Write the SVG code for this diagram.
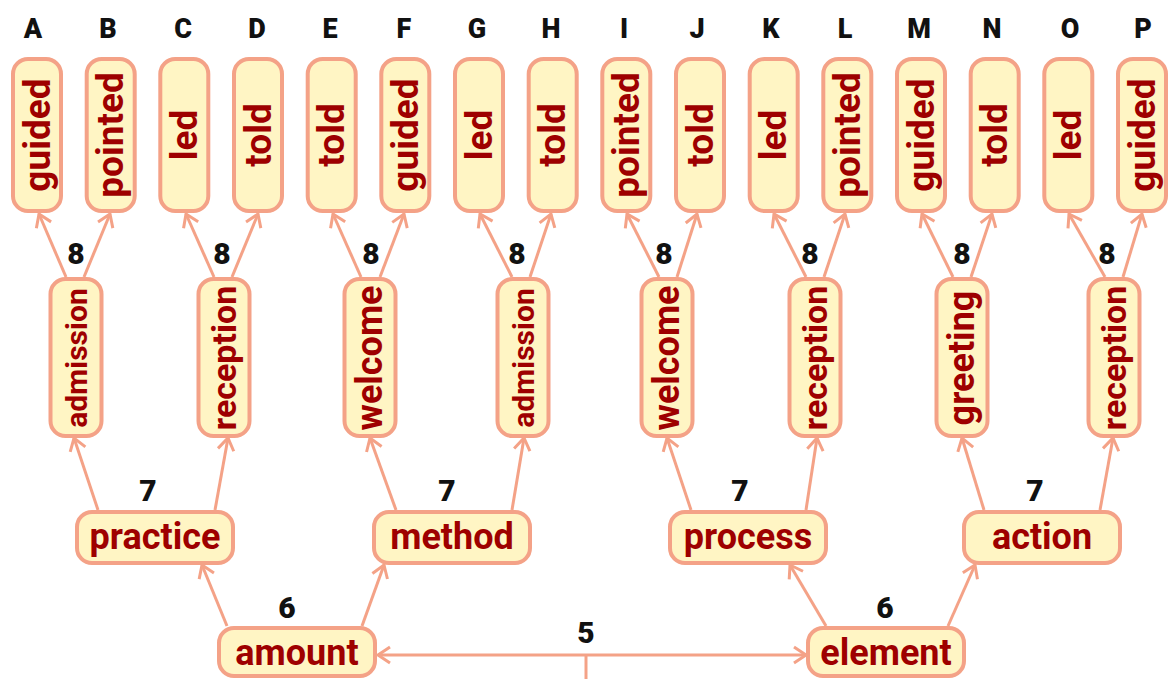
<svg xmlns="http://www.w3.org/2000/svg" width="1172" height="679" viewBox="0 0 1172 679">
<style>
.n{fill:#fff5c4;stroke:#f4a287;stroke-width:4}
.t{font-family:Roboto,"Liberation Sans",sans-serif;font-weight:bold;fill:#9e0000;text-anchor:middle;dominant-baseline:central}
.e{stroke:#f4a287;stroke-width:3;fill:none}
.l{font-family:Roboto,"Liberation Sans",sans-serif;font-weight:900;fill:#111;text-anchor:middle;dominant-baseline:central}
.d{font-size:30px}
.c{font-size:27px}
</style>
<defs>
<marker id="ah" markerUnits="userSpaceOnUse" markerWidth="24" markerHeight="24" refX="14" refY="10" orient="auto-start-reverse" viewBox="0 0 24 20">
<path d="M2,2 L14,10 L2,18" fill="none" stroke="#f4a287" stroke-width="3"/>
</marker>
</defs>
<rect width="1172" height="679" fill="#fff"/>
<g id="letters">
<text x="33" y="29" class="l c">A</text><text x="108" y="29" class="l c">B</text><text x="183" y="29" class="l c">C</text><text x="257" y="29" class="l c">D</text>
<text x="330" y="29" class="l c">E</text><text x="404" y="29" class="l c">F</text><text x="477" y="29" class="l c">G</text><text x="551" y="29" class="l c">H</text>
<text x="624" y="29" class="l c">I</text><text x="697" y="29" class="l c">J</text><text x="771" y="29" class="l c">K</text><text x="845" y="29" class="l c">L</text>
<text x="919" y="29" class="l c">M</text><text x="992" y="29" class="l c">N</text><text x="1070" y="29" class="l c">O</text><text x="1143" y="29" class="l c">P</text>
</g>
<g id="connectors">
<g class="e" marker-end="url(#ah)">
<line x1="66" y1="277" x2="39" y2="214"/><line x1="84" y1="277" x2="110" y2="214"/>
<line x1="214" y1="277" x2="186" y2="214"/><line x1="232" y1="277" x2="258" y2="214"/>
<line x1="361" y1="277" x2="333" y2="214"/><line x1="380" y1="277" x2="404" y2="214"/>
<line x1="512" y1="277" x2="480" y2="214"/><line x1="530" y1="277" x2="551" y2="214"/>
<line x1="659" y1="277" x2="627" y2="214"/><line x1="677" y1="277" x2="697" y2="214"/>
<line x1="806" y1="277" x2="774" y2="214"/><line x1="824" y1="277" x2="845" y2="214"/>
<line x1="953" y1="277" x2="922" y2="214"/><line x1="971" y1="277" x2="992" y2="214"/>
<line x1="1105" y1="277" x2="1069" y2="214"/><line x1="1123" y1="277" x2="1142" y2="214"/>
<line x1="98" y1="510" x2="74" y2="438"/><line x1="215" y1="510" x2="228" y2="438"/>
<line x1="396" y1="510" x2="370" y2="438"/><line x1="512" y1="510" x2="524" y2="438"/>
<line x1="691" y1="510" x2="667" y2="438"/><line x1="806" y1="510" x2="817" y2="438"/>
<line x1="984" y1="510" x2="962" y2="438"/><line x1="1100" y1="510" x2="1113" y2="438"/>
<line x1="227" y1="626" x2="202" y2="565"/><line x1="362" y1="626" x2="384" y2="565"/>
<line x1="826" y1="626" x2="790" y2="565"/><line x1="948" y1="626" x2="975" y2="565"/>
<line x1="378" y1="655" x2="806" y2="655" marker-start="url(#ah)"/>
</g>
<line class="e" x1="586" y1="655" x2="586" y2="679"/>
</g>
<g id="edge-labels">
<text x="76" y="253" class="l d">8</text><text x="222" y="253" class="l d">8</text>
<text x="371" y="253" class="l d">8</text><text x="517" y="253" class="l d">8</text>
<text x="664" y="253" class="l d">8</text><text x="810" y="253" class="l d">8</text>
<text x="962" y="253" class="l d">8</text><text x="1107" y="253" class="l d">8</text>
<text x="148" y="490" class="l d">7</text><text x="447" y="490" class="l d">7</text>
<text x="740" y="490" class="l d">7</text><text x="1035" y="490" class="l d">7</text>
<text x="287" y="607" class="l d">6</text><text x="885" y="607" class="l d">6</text>
<text x="586" y="632" class="l d">5</text>
</g>
<g id="A"><rect class="n" x="13" y="59" width="48" height="152" rx="15"/><text class="t" font-size="37" transform="translate(37,135) rotate(-90)">guided</text></g>
<g id="B"><rect class="n" x="86.7" y="59" width="48" height="152" rx="15"/><text class="t" font-size="37" transform="translate(110.7,135) rotate(-90)">pointed</text></g>
<g id="C"><rect class="n" x="160.3" y="59" width="48" height="152" rx="15"/><text class="t" font-size="37" transform="translate(184.3,135) rotate(-90)">led</text></g>
<g id="D"><rect class="n" x="234" y="59" width="48" height="152" rx="15"/><text class="t" font-size="37" transform="translate(258,135) rotate(-90)">told</text></g>
<g id="E"><rect class="n" x="307.7" y="59" width="48" height="152" rx="15"/><text class="t" font-size="37" transform="translate(331.7,135) rotate(-90)">told</text></g>
<g id="F"><rect class="n" x="381.3" y="59" width="48" height="152" rx="15"/><text class="t" font-size="37" transform="translate(405.3,135) rotate(-90)">guided</text></g>
<g id="G"><rect class="n" x="455" y="59" width="48" height="152" rx="15"/><text class="t" font-size="37" transform="translate(479,135) rotate(-90)">led</text></g>
<g id="H"><rect class="n" x="528.7" y="59" width="48" height="152" rx="15"/><text class="t" font-size="37" transform="translate(552.7,135) rotate(-90)">told</text></g>
<g id="I"><rect class="n" x="602.3" y="59" width="48" height="152" rx="15"/><text class="t" font-size="37" transform="translate(626.3,135) rotate(-90)">pointed</text></g>
<g id="J"><rect class="n" x="676" y="59" width="48" height="152" rx="15"/><text class="t" font-size="37" transform="translate(700,135) rotate(-90)">told</text></g>
<g id="K"><rect class="n" x="749.7" y="59" width="48" height="152" rx="15"/><text class="t" font-size="37" transform="translate(773.7,135) rotate(-90)">led</text></g>
<g id="L"><rect class="n" x="823.3" y="59" width="48" height="152" rx="15"/><text class="t" font-size="37" transform="translate(847.3,135) rotate(-90)">pointed</text></g>
<g id="M"><rect class="n" x="897" y="59" width="48" height="152" rx="15"/><text class="t" font-size="37" transform="translate(921,135) rotate(-90)">guided</text></g>
<g id="N"><rect class="n" x="970.7" y="59" width="48" height="152" rx="15"/><text class="t" font-size="37" transform="translate(994.7,135) rotate(-90)">told</text></g>
<g id="O"><rect class="n" x="1044.3" y="59" width="48" height="152" rx="15"/><text class="t" font-size="37" transform="translate(1068.3,135) rotate(-90)">led</text></g>
<g id="P"><rect class="n" x="1118" y="59" width="48" height="152" rx="15"/><text class="t" font-size="37" transform="translate(1142,135) rotate(-90)">guided</text></g>
<g id="admission1"><rect class="n" x="50.5" y="279" width="51" height="157" rx="15"/><text class="t" font-size="30" transform="translate(76,358) rotate(-90)">admission</text></g>
<g id="reception1"><rect class="n" x="198.5" y="279" width="51" height="157" rx="15"/><text class="t" font-size="34" transform="translate(224,358) rotate(-90)">reception</text></g>
<g id="welcome1"><rect class="n" x="344.5" y="279" width="51" height="157" rx="15"/><text class="t" font-size="36" transform="translate(370,358) rotate(-90)">welcome</text></g>
<g id="admission2"><rect class="n" x="497.5" y="279" width="51" height="157" rx="15"/><text class="t" font-size="30" transform="translate(523,358) rotate(-90)">admission</text></g>
<g id="welcome2"><rect class="n" x="641.5" y="279" width="51" height="157" rx="15"/><text class="t" font-size="36" transform="translate(667,358) rotate(-90)">welcome</text></g>
<g id="reception2"><rect class="n" x="789.5" y="279" width="51" height="157" rx="15"/><text class="t" font-size="34" transform="translate(815,358) rotate(-90)">reception</text></g>
<g id="greeting"><rect class="n" x="936.5" y="279" width="51" height="157" rx="15"/><text class="t" font-size="36" transform="translate(962,358) rotate(-90)">greeting</text></g>
<g id="reception3"><rect class="n" x="1088.5" y="279" width="51" height="157" rx="15"/><text class="t" font-size="34" transform="translate(1114,358) rotate(-90)">reception</text></g>
<g id="practice"><rect class="n" x="77" y="512" width="156" height="51" rx="15"/><text class="t" font-size="36" x="155" y="537">practice</text></g>
<g id="method"><rect class="n" x="374" y="512" width="156" height="51" rx="15"/><text class="t" font-size="36" x="452" y="537">method</text></g>
<g id="process"><rect class="n" x="670" y="512" width="156" height="51" rx="15"/><text class="t" font-size="36" x="748" y="537">process</text></g>
<g id="action"><rect class="n" x="964" y="512" width="156" height="51" rx="15"/><text class="t" font-size="36" x="1042" y="537">action</text></g>
<g id="amount"><rect class="n" x="219" y="628" width="156" height="48" rx="15"/><text class="t" font-size="36" x="297" y="653">amount</text></g>
<g id="element"><rect class="n" x="808" y="628" width="156" height="48" rx="15"/><text class="t" font-size="36" x="886" y="653">element</text></g>
</svg>
